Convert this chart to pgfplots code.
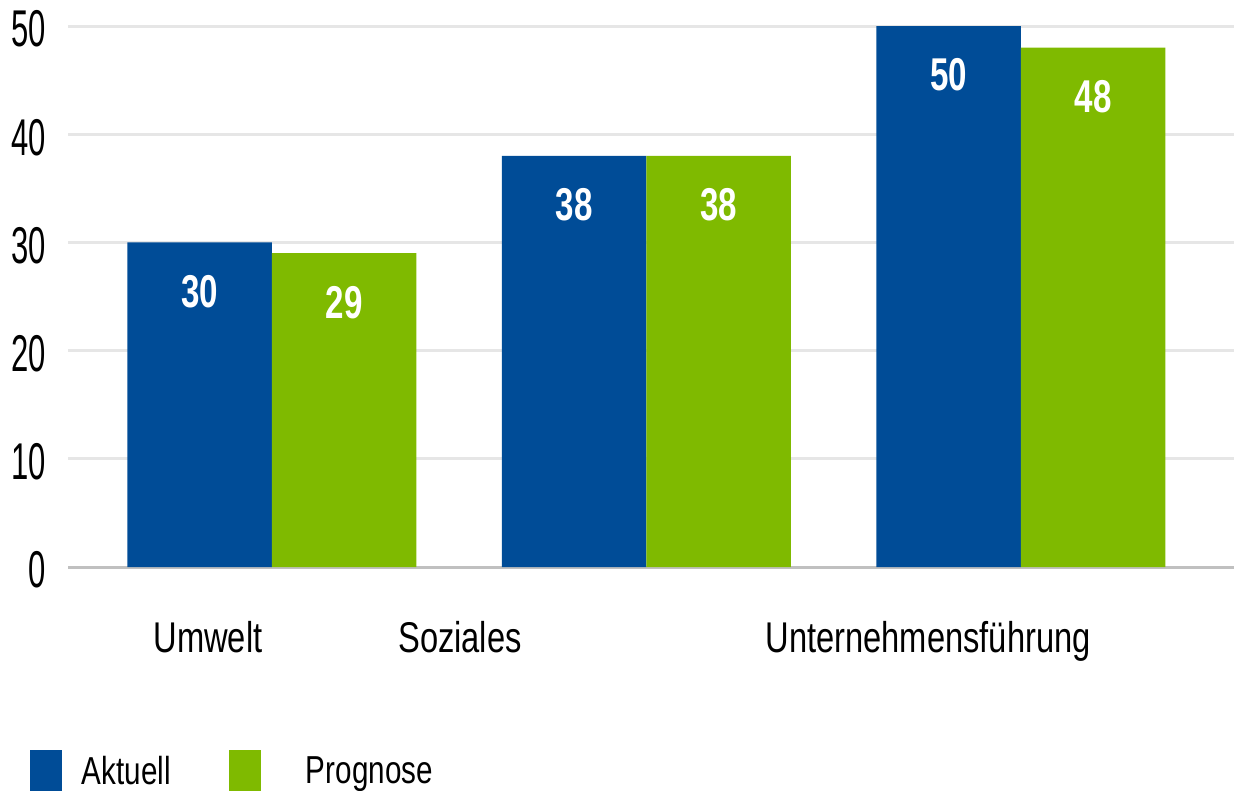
\documentclass[border=0pt]{standalone}
\usepackage{pgfplots}
\pgfplotsset{compat=1.18}
\usepackage{pgfplotstable}
\usepackage{fontspec}
\setmainfont{Liberation Sans}
\newfontfamily\tickfont{Liberation Sans}[FakeStretch=0.6]
\newfontfamily\catfont{Liberation Sans}[FakeStretch=0.76]
\newfontfamily\barfont{Liberation Sans}[FakeStretch=0.72]
\definecolor{cblue}{RGB}{0,76,151}
\definecolor{cgreen}{RGB}{127,186,0}
\definecolor{cgrid}{RGB}{230,230,230}
\definecolor{czero}{RGB}{192,192,192}
\pgfplotstableread{
x aktuell prognose
0 30 29
1 38 38
2 50 48
}\datatable
\pgfplotsset{sqlegend/.style={legend image code/.code={\fill (0pt,-24pt) rectangle (32pt,21pt);}}}
\begin{document}
\begin{tikzpicture}
\path[use as bounding box] (0,0) rectangle (1234pt,-791pt);
\begin{axis}[
 at={(68pt,-567pt)}, anchor=south west,
 scale only axis, width=1166pt, height=541pt,
 xmin=-0.5447, xmax=2.5688, ymin=0, ymax=50,
 ybar=0pt, bar width=144.5pt,
 axis line style={draw=none},
 tick style={draw=none},
 major tick length=0pt,
 ytick={10,20,30,40,50},
 extra y ticks={0},
 extra y tick style={grid style={color=czero, line width=3pt}},
 ymajorgrids, grid style={color=cgrid, line width=3pt},
 xtick={-0.171,0.502,1.752},
 xticklabels={Umwelt,Soziales,Unternehmensführung},
 xticklabel style={font=\catfont\fontsize{43}{50}\selectfont, anchor=base, inner sep=0pt, yshift=-85pt},
 yticklabel style={font=\tickfont\fontsize{51.7}{56}\selectfont, anchor=east, inner sep=0pt, xshift=-22pt, yshift=-3pt},
 /pgf/number format/assume math mode=true,
 nodes near coords,
 every node near coord/.append style={font=\barfont\bfseries\fontsize{46}{50}\selectfont, color=white, anchor=center, yshift=-49pt},
 clip=false,
 legend style={at={(axis description cs:-0.0326,-0.338)}, anchor=north west, draw=none, fill=none, inner sep=0pt, outer sep=0pt, font=\catfont\fontsize{39}{44}\selectfont, nodes={inner sep=0pt}, /tikz/every odd column/.append style={column sep=20pt}, /tikz/every even column/.append style={column sep=58pt}},
 legend columns=2,
]
\addplot[fill=cblue, draw=none, sqlegend] table[x=x,y=aktuell]{\datatable};
\addplot[fill=cgreen, draw=none, sqlegend] table[x=x,y=prognose]{\datatable};
\legend{Aktuell,\hspace*{25pt}Prognose}
\end{axis}
\end{tikzpicture}
\end{document}
